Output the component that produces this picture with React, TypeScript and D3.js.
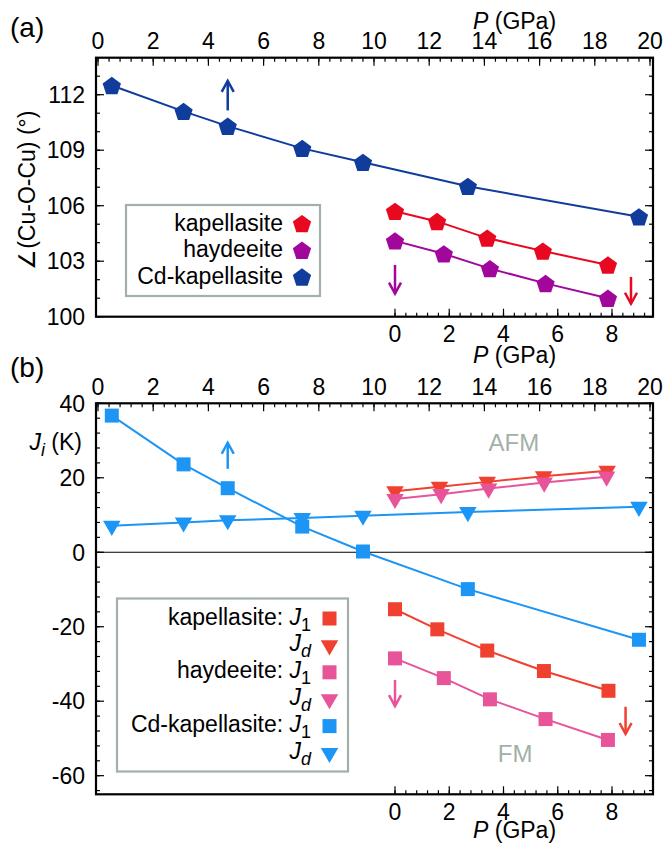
import React from "react";
import * as d3 from "d3";

// ---------- data ----------
// Panel (a): Cu-O-Cu angle (deg)
const pressureCd = [0.5, 3.1, 4.7, 7.4, 9.6, 13.4, 19.6];
const angleCd = [112.5, 111.1, 110.3, 109.1, 108.35, 107.05, 105.4];
const pressureKapA = [0, 1.55, 3.4, 5.45, 7.85];
const angleKap = [105.7, 105.15, 104.25, 103.55, 102.8];
const pressureHayA = [0, 1.8, 3.5, 5.55, 7.85];
const angleHay = [104.1, 103.4, 102.6, 101.8, 101.0];

// Panel (b): exchange couplings (K)
const J1Cd = [36.7, 23.6, 17.2, 6.9, 0.2, -9.9, -23.5];
const JdCd = [7.1, 8.0, 8.6, 9.2, 9.8, 10.8, 12.2];
const pressureKapJ1 = [0, 1.56, 3.4, 5.49, 7.87];
const J1Kap = [-15.3, -20.7, -26.4, -31.9, -37.2];
const pressureKapJd = [0, 1.64, 3.4, 5.48, 7.82];
const JdKap = [16.4, 17.6, 18.9, 20.4, 21.9];
const pressureHayJ1 = [0, 1.8, 3.5, 5.55, 7.85];
const J1Hay = [-28.5, -33.8, -39.5, -44.8, -50.4];
const pressureHayJd = [0, 1.7, 3.45, 5.5, 7.8];
const JdHay = [14.3, 15.6, 17.1, 18.7, 20.3];

const topTicks = [0, 2, 4, 6, 8, 10, 12, 14, 16, 18, 20];
const bottomTicks = [0, 2, 4, 6, 8];
const angleTicks = [100, 103, 106, 109, 112];
const jTicks = [-60, -40, -20, 0, 20, 40];

// ---------- styles ----------
const FONT = "'Liberation Sans', Arial, Helvetica, sans-serif";
const FS = 23;
const cA = { cd: "#103c9c", kap: "#e8081f", hay: "#a1079b" };
const cB = { cd: "#1c95f5", kap: "#f0402f", hay: "#e75499" };
const GRAY = "#a3b0a8";

// ---------- geometry ----------
const L = 96, R = 653;
const xTop = d3.scaleLinear().domain([0, 20]).range([98, 650]);
const xBot = d3.scaleLinear().domain([0, 8]).range([395, 612]);
const yA = d3.scaleLinear().domain([100, 114]).range([316.7, 57.7]);
const yB = d3.scaleLinear().domain([-65, 40]).range([794.3, 403.3]);

function pentagon(cx: number, cy: number, r = 9.6) {
  const pts = d3.range(5).map((k) => {
    const a = (-90 + 72 * k) * Math.PI / 180;
    return [cx + r * Math.cos(a), cy + r * Math.sin(a) + 1];
  });
  return "M" + pts.map((p) => p.join(",")).join("L") + "Z";
}
function triDown(cx: number, cy: number, s = 17.5) {
  const h = s * Math.sqrt(3) / 2;
  return `M${cx - s / 2},${cy - h / 3}L${cx + s / 2},${cy - h / 3}L${cx},${cy + (2 * h) / 3}Z`;
}

function Series({ xs, ys, xScale, yScale, color, marker }: any) {
  const line = d3.line<number>().x((_, i) => xScale(xs[i])).y((v) => yScale(v));
  return (
    <g>
      <path d={line(ys) || ""} fill="none" stroke={color} strokeWidth={2} />
      {ys.map((v: number, i: number) => {
        const cx = xScale(xs[i]);
        const cy = yScale(v);
        if (marker === "pent") return <path key={i} d={pentagon(cx, cy)} fill={color} />;
        if (marker === "sq") return <rect key={i} x={cx - 7} y={cy - 7} width={14} height={14} fill={color} />;
        return <path key={i} d={triDown(cx, cy)} fill={color} />;
      })}
    </g>
  );
}

function Arrow({ x, y1, y2, color }: any) {
  const dir = y2 > y1 ? 1 : -1;
  return (
    <g stroke={color} strokeWidth={2.5} fill="none" strokeLinecap="butt">
      <line x1={x} y1={y1} x2={x} y2={y2} />
      <polyline points={`${x - 6},${y2 - dir * 11} ${x},${y2} ${x + 6},${y2 - dir * 11}`} />
    </g>
  );
}

function Frame({ top, bottom, yScale, yMajor, yMinor, bottomMinorMax, topLabelY, botLabelY }: any) {
  const topMinor = d3.range(0, 20.001, 0.4);
  const botMinor = d3.range(0, bottomMinorMax, 0.4);
  return (
    <g>
      {topMinor.map((t: number, i: number) => (
        <line key={"tm" + i} x1={xTop(t)} x2={xTop(t)} y1={top} y2={top + 4} stroke="#000" strokeWidth={1.2} />
      ))}
      {topTicks.map((t) => (
        <g key={"tt" + t}>
          <line x1={xTop(t)} x2={xTop(t)} y1={top} y2={top + 8} stroke="#000" strokeWidth={1.2} />
          <text x={xTop(t)} y={topLabelY} textAnchor="middle" fontSize={FS}>{t}</text>
        </g>
      ))}
      {botMinor.map((t: number, i: number) => (
        <line key={"bm" + i} x1={xBot(t)} x2={xBot(t)} y1={bottom} y2={bottom - 4} stroke="#000" strokeWidth={1.2} />
      ))}
      {bottomTicks.map((t) => (
        <g key={"bt" + t}>
          <line x1={xBot(t)} x2={xBot(t)} y1={bottom} y2={bottom - 8} stroke="#000" strokeWidth={1.2} />
          <text x={xBot(t)} y={botLabelY} textAnchor="middle" fontSize={FS}>{t}</text>
        </g>
      ))}
      {yMinor.map((t: number, i: number) => (
        <g key={"ym" + i}>
          <line x1={L} x2={L + 4} y1={yScale(t)} y2={yScale(t)} stroke="#000" strokeWidth={1.2} />
          <line x1={R} x2={R - 4} y1={yScale(t)} y2={yScale(t)} stroke="#000" strokeWidth={1.2} />
        </g>
      ))}
      {yMajor.map((t: number) => (
        <g key={"yt" + t}>
          <line x1={L} x2={L + 8} y1={yScale(t)} y2={yScale(t)} stroke="#000" strokeWidth={1.2} />
          <line x1={R} x2={R - 8} y1={yScale(t)} y2={yScale(t)} stroke="#000" strokeWidth={1.2} />
          <text x={85} y={yScale(t)} dy="0.36em" textAnchor="end" fontSize={FS}>{t}</text>
        </g>
      ))}
      <rect x={L} y={top} width={R - L} height={bottom - top} fill="none" stroke="#000" strokeWidth={2.2} />
    </g>
  );
}

function PTitle({ x, y }: any) {
  return (
    <text x={x} y={y} fontSize={FS}>
      <tspan fontStyle="italic">P</tspan> (GPa)
    </text>
  );
}

export default function App() {
  const topA = yA(114), botA = yA(100);
  const topB = yB(40), botB = yB(-65);
  const legA = [
    { label: "kapellasite", color: cA.kap },
    { label: "haydeeite", color: cA.hay },
    { label: "Cd-kapellasite", color: cA.cd },
  ];
  const legB = [
    { pre: "kapellasite: ", sub: "1", color: cB.kap, m: "sq" },
    { pre: "", sub: "d", color: cB.kap, m: "tri" },
    { pre: "haydeeite: ", sub: "1", color: cB.hay, m: "sq" },
    { pre: "", sub: "d", color: cB.hay, m: "tri" },
    { pre: "Cd-kapellasite: ", sub: "1", color: cB.cd, m: "sq" },
    { pre: "", sub: "d", color: cB.cd, m: "tri" },
  ];
  return (
    <svg width={667} height={843} style={{ position: "absolute", left: 0, top: 0, background: "#fff" }}
      fontFamily={FONT} fill="#000">
      <rect width={667} height={843} fill="#fff" />
      {/* ---------------- panel (a) ---------------- */}
      <text x={10} y={37} fontSize={28}>(a)</text>
      <PTitle x={473} y={28.5} />
      <PTitle x={473} y={362.5} />
      <text transform={`translate(35,${(topA + botA) / 2 + 3}) rotate(-90)`} textAnchor="middle" fontSize={FS}>
        ∠(Cu-O-Cu) (°)
      </text>
      <Frame top={topA} bottom={botA} yScale={yA} yMajor={angleTicks} yMinor={d3.range(100, 114.01, 1)}
        bottomMinorMax={9.55} topLabelY={48.5} botLabelY={342} />
      <Series xs={pressureCd} ys={angleCd} xScale={xTop} yScale={yA} color={cA.cd} marker="pent" />
      <Series xs={pressureKapA} ys={angleKap} xScale={xBot} yScale={yA} color={cA.kap} marker="pent" />
      <Series xs={pressureHayA} ys={angleHay} xScale={xBot} yScale={yA} color={cA.hay} marker="pent" />
      <Arrow x={xTop(4.7)} y1={yA(111.15)} y2={yA(112.75)} color={cA.cd} />
      <Arrow x={xBot(0)} y1={yA(102.8)} y2={yA(101.25)} color={cA.hay} />
      <Arrow x={xBot(8.7)} y1={yA(102.15)} y2={yA(100.7)} color={cA.kap} />
      <rect x={126} y={205} width={194} height={91} fill="#fff" stroke={GRAY} strokeWidth={2.2} />
      {legA.map((e, i) => (
        <g key={i}>
          <text x={283} y={230.5 + i * 26.7} textAnchor="end" fontSize={FS}>{e.label}</text>
          <path d={pentagon(302, 223.5 + i * 26.7)} fill={e.color} />
        </g>
      ))}

      {/* ---------------- panel (b) ---------------- */}
      <text x={10} y={376.5} fontSize={28}>(b)</text>
      <PTitle x={473} y={838} />
      <text x={82} y={450} textAnchor="end" fontSize={FS}>
        <tspan fontStyle="italic">J</tspan>
        <tspan fontSize={18} fontStyle="italic" dy={6}>i</tspan>
        <tspan dy={-6}> (K)</tspan>
      </text>
      <line x1={L} x2={R} y1={yB(0)} y2={yB(0)} stroke="#000" strokeWidth={1.2} />
      <Frame top={topB} bottom={botB} yScale={yB} yMajor={jTicks} yMinor={d3.range(-64, 40.01, 4)}
        bottomMinorMax={9.55} topLabelY={395} botLabelY={819.5} />
      <text x={xTop(15.07)} y={yB(27.3)} textAnchor="middle" fontSize={24} fill={GRAY}>AFM</text>
      <text x={xBot(4.43)} y={yB(-56.4)} textAnchor="middle" fontSize={24} fill={GRAY}>FM</text>
      <Series xs={pressureCd} ys={J1Cd} xScale={xTop} yScale={yB} color={cB.cd} marker="sq" />
      <Series xs={pressureCd} ys={JdCd} xScale={xTop} yScale={yB} color={cB.cd} marker="tri" />
      <Series xs={pressureKapJ1} ys={J1Kap} xScale={xBot} yScale={yB} color={cB.kap} marker="sq" />
      <Series xs={pressureKapJd} ys={JdKap} xScale={xBot} yScale={yB} color={cB.kap} marker="tri" />
      <Series xs={pressureHayJ1} ys={J1Hay} xScale={xBot} yScale={yB} color={cB.hay} marker="sq" />
      <Series xs={pressureHayJd} ys={JdHay} xScale={xBot} yScale={yB} color={cB.hay} marker="tri" />
      <Arrow x={xTop(4.7)} y1={yB(22.4)} y2={yB(29.4)} color={cB.cd} />
      <Arrow x={xBot(0)} y1={yB(-34.3)} y2={yB(-41.3)} color={cB.hay} />
      <Arrow x={xBot(8.5)} y1={yB(-41.5)} y2={yB(-48.8)} color={cB.kap} />
      <rect x={117} y={598.5} width={231} height={173} fill="#fff" stroke={GRAY} strokeWidth={2.2} />
      {legB.map((e, i) => {
        const cy = 618.5 + i * 26.9;
        return (
          <g key={i}>
            <text x={311} y={cy + 6} textAnchor="end" fontSize={FS}>
              {e.pre}
              <tspan fontStyle="italic">J</tspan>
              <tspan fontSize={18} fontStyle={e.sub === "d" ? "italic" : "normal"} dy={6}>{e.sub}</tspan>
            </text>
            {e.m === "sq" ? (
              <rect x={329.5 - 7} y={cy - 7} width={14} height={14} fill={e.color} />
            ) : (
              <path d={triDown(329.5, cy)} fill={e.color} />
            )}
          </g>
        );
      })}
    </svg>
  );
}
